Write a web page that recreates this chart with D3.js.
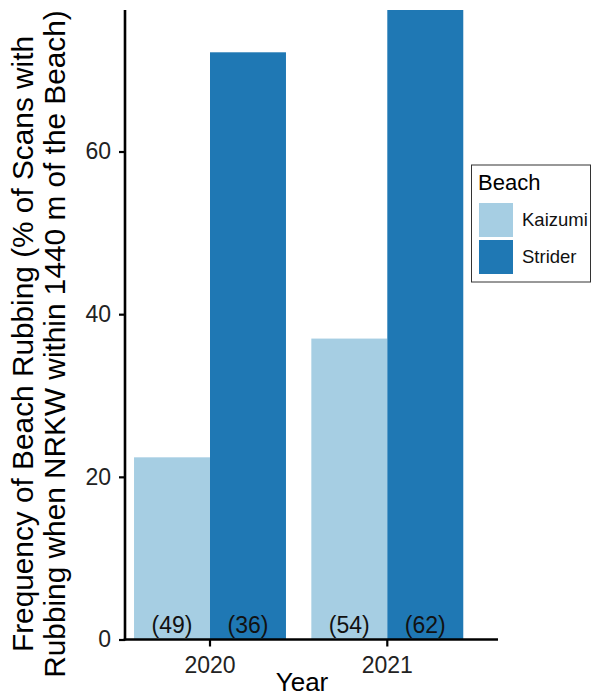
<!DOCTYPE html>
<html>
<head>
<meta charset="utf-8">
<script src="https://cdn.jsdelivr.net/npm/d3@7"></script>
<style>
  html, body { margin: 0; padding: 0; background: #fff; }
  svg { display: block; font-family: "Liberation Sans", Arial, Helvetica, sans-serif; }
</style>
</head>
<body>
<svg id="chart" width="592" height="698"></svg>
<script>
// Beach rubbing frequency by year and beach
const years = ["2020", "2021"];
const beaches = ["Kaizumi", "Strider"];
const kaizumiValues = [22.4, 37.0];
const striderValues = [72.2, 77.4];
const kaizumiCounts = ["(49)", "(54)"];
const striderCounts = ["(36)", "(62)"];
const yTicks = [0, 20, 40, 60];
const beachColors = ["#a6cee3", "#1f78b4"];

const rows = [];
years.forEach((yr, i) => {
  rows.push({ year: yr, beach: beaches[0], value: kaizumiValues[i], n: kaizumiCounts[i] });
  rows.push({ year: yr, beach: beaches[1], value: striderValues[i], n: striderCounts[i] });
});

const svg = d3.select("#chart");
const panel = { left: 125, right: 498, top: 10, bottom: 639.5 };

const x = d3.scaleBand()
  .domain(years)
  .range([121.35, 475.95])
  .paddingInner(0.143)
  .paddingOuter(0.0715);

const xInner = d3.scaleBand()
  .domain(beaches)
  .range([0, x.bandwidth()]);

const y = d3.scaleLinear()
  .domain([0, d3.max(rows, d => d.value)])
  .range([panel.bottom, panel.top]);

const color = d3.scaleOrdinal().domain(beaches).range(beachColors);

// bars
svg.append("g").selectAll("rect")
  .data(rows)
  .join("rect")
  .attr("x", d => x(d.year) + xInner(d.beach))
  .attr("y", d => y(d.value))
  .attr("width", xInner.bandwidth())
  .attr("height", d => y(0) - y(d.value))
  .attr("fill", d => color(d.beach));

// sample size labels at bar bases
svg.append("g").selectAll("text")
  .data(rows)
  .join("text")
  .attr("x", d => x(d.year) + xInner(d.beach) + xInner.bandwidth() / 2)
  .attr("y", 633)
  .attr("text-anchor", "middle")
  .attr("font-size", 23)
  .attr("fill", "#111")
  .text(d => d.n);

// y axis
const yAxis = svg.append("g")
  .attr("transform", `translate(${panel.left},0)`)
  .call(d3.axisLeft(y).tickValues(yTicks).tickSize(6).tickPadding(8).tickFormat(d3.format("d")));
yAxis.select(".domain").remove();
yAxis.attr("font-family", null);
yAxis.selectAll(".tick line").attr("stroke", "#000").attr("stroke-width", 2.2);
yAxis.selectAll(".tick text").attr("font-size", 23).attr("fill", "#222");
svg.append("line")
  .attr("x1", panel.left).attr("x2", panel.left)
  .attr("y1", panel.top).attr("y2", panel.bottom + 1)
  .attr("stroke", "#000").attr("stroke-width", 2.6);

// x axis
const xAxis = svg.append("g")
  .attr("transform", `translate(0,${panel.bottom})`)
  .call(d3.axisBottom(x).tickSize(7).tickPadding(10));
xAxis.select(".domain").remove();
xAxis.attr("font-family", null);
xAxis.selectAll(".tick line").attr("stroke", "#000").attr("stroke-width", 2.2);
xAxis.selectAll(".tick text").attr("font-size", 23).attr("fill", "#222");
svg.append("line")
  .attr("x1", panel.left - 1.3).attr("x2", panel.right)
  .attr("y1", panel.bottom).attr("y2", panel.bottom)
  .attr("stroke", "#000").attr("stroke-width", 2.6);

// axis titles
svg.append("text")
  .attr("x", 302).attr("y", 691)
  .attr("text-anchor", "middle")
  .attr("font-size", 26)
  .attr("fill", "#000")
  .text("Year");

const yTitle = svg.append("text")
  .attr("transform", "translate(0,344) rotate(-90)")
  .attr("text-anchor", "middle")
  .attr("font-size", 29.8)
  .attr("fill", "#000");
yTitle.append("tspan").attr("x", 0).attr("y", 33).text("Frequency of Beach Rubbing (% of Scans with");
yTitle.append("tspan").attr("x", 0).attr("y", 65).text("Rubbing when NRKW within 1440 m of the Beach)");

// legend
const legend = svg.append("g");
legend.append("rect")
  .attr("x", 471.5).attr("y", 165)
  .attr("width", 119).attr("height", 117)
  .attr("fill", "#fff").attr("stroke", "#333").attr("stroke-width", 1);
legend.append("text")
  .attr("x", 478).attr("y", 190)
  .attr("font-size", 22).attr("fill", "#000")
  .text("Beach");
const keys = legend.selectAll("g.key")
  .data(beaches)
  .join("g")
  .attr("class", "key")
  .attr("transform", (d, i) => `translate(479,${203 + i * 37})`);
keys.append("rect")
  .attr("width", 34).attr("height", 34)
  .attr("fill", d => color(d));
keys.append("text")
  .attr("x", 43).attr("y", 17)
  .attr("dy", "0.35em")
  .attr("font-size", 18.5).attr("fill", "#111")
  .text(d => d);
</script>
</body>
</html>
